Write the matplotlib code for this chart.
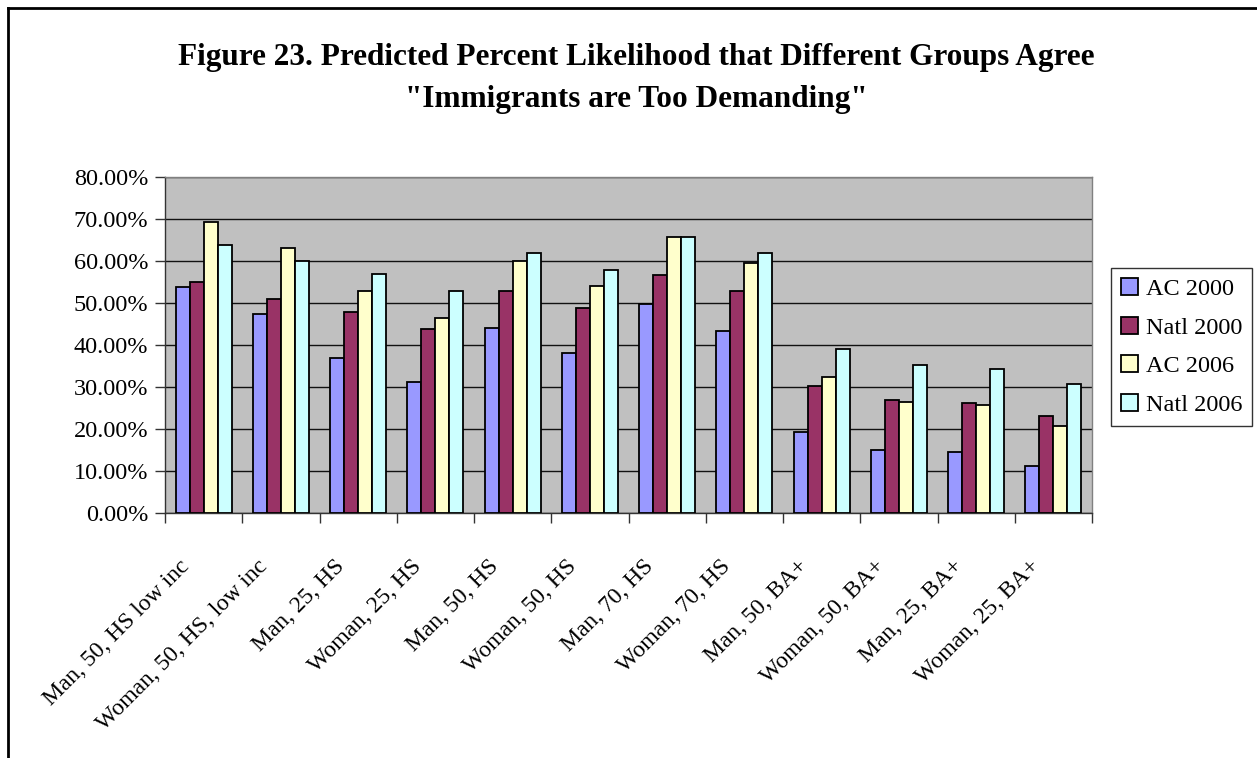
import matplotlib
matplotlib.use("Agg")
import matplotlib.pyplot as plt
from matplotlib.lines import Line2D
from matplotlib.transforms import ScaledTranslation
import numpy as np

categories = [
    "Man, 50, HS low inc", "Woman, 50, HS, low inc", "Man, 25, HS", "Woman, 25, HS",
    "Man, 50, HS", "Woman, 50, HS", "Man, 70, HS", "Woman, 70, HS",
    "Man, 50, BA+", "Woman, 50, BA+", "Man, 25, BA+", "Woman, 25, BA+",
]
series_names = ["AC 2000", "Natl 2000", "AC 2006", "Natl 2006"]
ac_2000 = [53.7, 47.5, 36.8, 31.1, 44.1, 38.0, 49.8, 43.3, 19.3, 15.0, 14.6, 11.3]
natl_2000 = [55.1, 51.0, 47.9, 43.7, 52.8, 48.7, 56.7, 52.8, 30.3, 27.0, 26.1, 23.1]
ac_2006 = [69.3, 63.1, 52.9, 46.4, 60.1, 54.0, 65.8, 59.6, 32.3, 26.5, 25.8, 20.8]
natl_2006 = [63.9, 60.1, 57.0, 52.8, 62.0, 57.9, 65.8, 62.0, 39.1, 35.3, 34.2, 30.8]
colors = ["#9999FF", "#993366", "#FFFFCC", "#CCFFFF"]
y_ticks = [0, 10, 20, 30, 40, 50, 60, 70, 80]

plt.rcParams["font.family"] = ["Liberation Serif", "DejaVu Serif"]

W, H = 1257, 758
fig = plt.figure(figsize=(W / 100, H / 100), dpi=100)
fig.patch.set_facecolor("white")

# outer chart frame (top and left edges visible)
fig.add_artist(Line2D([8 / W, 1.0], [1 - 8 / H, 1 - 8 / H], transform=fig.transFigure,
                      color="black", lw=2.0))
fig.add_artist(Line2D([8 / W, 8 / W], [0.0, 1 - 8 / H], transform=fig.transFigure,
                      color="black", lw=2.0))

left, right, top, bottom = 165, 1092, 177, 513
ax = fig.add_axes([left / W, 1 - bottom / H, (right - left) / W, (bottom - top) / H])
ax.set_facecolor("#C0C0C0")

x = np.arange(len(categories))
bw = 1 / 5.5
for i, (vals, c, name) in enumerate(zip([ac_2000, natl_2000, ac_2006, natl_2006], colors, series_names)):
    ax.bar(x + (i - 1.5) * bw, np.array(vals) / 100, width=bw, color=c,
           edgecolor="black", linewidth=1.3, label=name, zorder=3)

ax.set_xlim(-0.5, len(categories) - 0.5)
ax.set_ylim(0, 0.8)
ax.set_yticks([v / 100 for v in y_ticks])
ax.set_yticklabels([f"{v:.2f}%" for v in y_ticks], fontsize=17.5)
ax.yaxis.grid(True, color="#111111", lw=1.0, zorder=1)
ax.set_axisbelow(True)

# category boundary ticks and centred labels
ax.set_xticks(np.arange(-0.5, len(categories), 1.0))
ax.set_xticklabels([])
ax.set_xticks(x, minor=True)
ax.set_xticklabels(categories, minor=True, rotation=45, ha="right", va="center",
                   rotation_mode="anchor", fontsize=17)
ax.tick_params(axis="x", which="major", length=7, direction="out", width=1, color="#333333")
ax.tick_params(axis="x", which="minor", length=0, pad=36)
ax.tick_params(axis="y", length=7, direction="out", width=1, color="#333333", pad=5)
for lbl in ax.get_xticklabels(minor=True):
    lbl.set_transform(lbl.get_transform() + ScaledTranslation(-0.17, 0, fig.dpi_scale_trans))

for s in ["left", "bottom"]:
    ax.spines[s].set_color("#333333")
    ax.spines[s].set_linewidth(1.0)
for s in ["top", "right"]:
    ax.spines[s].set_color("#808080")
    ax.spines[s].set_linewidth(1.0)

fig.text(636 / W, 1 - 57 / H,
         "Figure 23. Predicted Percent Likelihood that Different Groups Agree",
         ha="center", va="center", fontsize=22.5, fontweight="bold")
fig.text(636 / W, 1 - 100 / H, "\"Immigrants are Too Demanding\"",
         ha="center", va="center", fontsize=22.5, fontweight="bold")

leg = ax.legend(loc="upper left", bbox_to_anchor=(1111 / W, 1 - 268 / H),
                bbox_transform=fig.transFigure, fontsize=17.5, frameon=True,
                fancybox=False, edgecolor="black", handlelength=0.7, handleheight=0.7,
                handletextpad=0.3, labelspacing=0.68, borderpad=0.42, borderaxespad=0)
leg.get_frame().set_linewidth(1.0)

fig.savefig("out.png", dpi=100, facecolor="white")
